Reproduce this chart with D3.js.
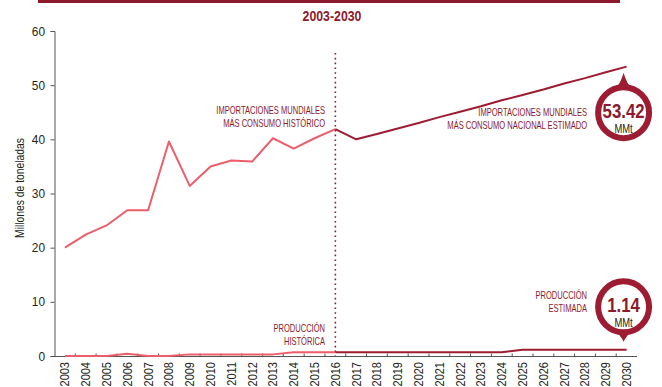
<!DOCTYPE html>
<html>
<head>
<meta charset="utf-8">
<script src="https://cdn.jsdelivr.net/npm/d3@7"></script>
<style>
  html, body { margin: 0; padding: 0; background: #fff; }
  svg { display: block; }
  text { font-family: "Liberation Sans", Arial, sans-serif; }
</style>
</head>
<body>
<svg id="chart" width="662" height="387"></svg>
<script>
// Years on the x axis
const years = ["2003","2004","2005","2006","2007","2008","2009","2010","2011","2012","2013","2014","2015","2016",
               "2017","2018","2019","2020","2021","2022","2023","2024","2025","2026","2027","2028","2029","2030"];
const histYears = years.slice(0, 14);   // 2003-2016
const estYears = years.slice(13);       // 2016-2030

// Imports plus consumption (million tonnes)
const importsHist = [20.0, 22.4, 24.1, 26.9, 26.9, 39.6, 31.4, 35.0, 36.1, 35.9, 40.2, 38.3, 40.2, 41.9];
const importsEst = [41.9, 40.0, 41.0, 42.0, 43.0, 44.1, 45.1, 46.1, 47.2, 48.2, 49.2, 50.3, 51.3, 52.4, 53.42];

// Domestic production (million tonnes)
const prodHist = [0.0, 0.0, 0.0, 0.4, 0.0, 0.0, 0.3, 0.3, 0.3, 0.3, 0.3, 0.7, 0.7, 0.7];
const prodEst = [0.7, 0.7, 0.7, 0.7, 0.7, 0.7, 0.7, 0.7, 0.7, 1.14, 1.14, 1.14, 1.14, 1.14, 1.14];

const yTicks = [0, 10, 20, 30, 40, 50, 60];
const splitYear = "2016";
const lastYear = "2030";

const DARK = "#8c1a2c";
const EST = "#9d1c31";
const HIST = "#ec5e6c";
const INK = "#231f20";

const svg = d3.select("#chart");

const x = d3.scaleBand().domain(years).range([54.5, 637]);
const cx = d => x(d) + x.bandwidth() / 2;
const y = d3.scaleLinear().domain([0, 60]).range([356, 31]);

// condensed text: horizontal squeeze applied around the anchor point
function ctext(parent, px, py, str, o) {
  const rot = o.rotate ? ` rotate(${o.rotate})` : "";
  const g = parent.append("g").attr("transform", `translate(${px},${py})${rot} scale(${o.sx || 1},1)`);
  return g.append("text").attr("text-anchor", o.anchor || "start")
    .attr("font-size", o.size).attr("font-weight", o.weight || "normal")
    .attr("fill", o.fill || INK).text(str);
}

// top rule and subtitle
svg.append("rect").attr("x", 38).attr("y", 0).attr("width", 582).attr("height", 3).attr("fill", DARK);
ctext(svg, 332, 21, "2003-2030", { size: 14, weight: "bold", fill: DARK, anchor: "middle", sx: 0.88 });

// y axis
const yAxis = svg.append("g").attr("transform", "translate(54.5,0)")
  .call(d3.axisLeft(y).tickValues(yTicks).tickSize(4).tickFormat(""));
yAxis.select(".domain").attr("stroke", "#555");
yAxis.selectAll(".tick line").attr("stroke", "#555");
yTicks.forEach(v => ctext(svg, 45, y(v) + 4.5, String(v), { size: 12.5, anchor: "end", sx: 0.95 }));

ctext(svg, 24, 188, "Millones de toneladas", { size: 12, anchor: "middle", rotate: -90, sx: 0.86 });

// x axis: ticks at band boundaries, labels rotated
const xg = svg.append("g").attr("transform", "translate(0,356.5)");
xg.append("line").attr("x1", 54.5).attr("x2", 637).attr("stroke", "#555");
xg.selectAll("line.tk").data(years.slice(1)).join("line").attr("class", "tk")
  .attr("x1", d => x(d)).attr("x2", d => x(d)).attr("y1", 0).attr("y2", -3).attr("stroke", "#555");
years.forEach(d => ctext(svg, cx(d) + 4.5, 362, d, { size: 12.5, anchor: "end", rotate: -90, sx: 0.88 }));

// divider at the last historical year
svg.append("line").attr("x1", cx(splitYear)).attr("x2", cx(splitYear))
  .attr("y1", 53).attr("y2", 356).attr("stroke", DARK).attr("stroke-width", 1.6)
  .attr("stroke-dasharray", "1.6 3.2");

const line = d3.line().x(d => cx(d[0])).y(d => y(d[1]));
const draw = (ys, vs, color) => svg.append("path")
  .datum(ys.map((d, i) => [d, vs[i]]))
  .attr("d", line).attr("fill", "none").attr("stroke", color)
  .attr("stroke-width", 2).attr("stroke-linejoin", "round");

draw(histYears, prodHist, HIST);
draw(estYears, prodEst, EST);
draw(histYears, importsHist, HIST);
draw(estYears, importsEst, EST);

// annotations
function label(xr, yb, lines) {
  lines.forEach((s, i) => ctext(svg, xr, yb + i * 12.5, s, { size: 10.5, anchor: "end", fill: DARK, sx: 0.72 }));
}
label(325, 114, ["IMPORTACIONES MUNDIALES", "MÁS CONSUMO HISTÓRICO"]);
label(325, 332, ["PRODUCCIÓN", "HISTÓRICA"]);
label(587, 116, ["IMPORTACIONES MUNDIALES", "MÁS CONSUMO NACIONAL ESTIMADO"]);
label(587, 299, ["PRODUCCIÓN", "ESTIMADA"]);

// value callout bubbles with a pointer toward the final point
function bubble(value, ccx, ccy, tipY) {
  const r = 25.5;
  const dir = tipY < ccy ? -1 : 1;
  const g = svg.append("g");
  g.append("path")
    .attr("d", `M${ccx - 10},${ccy + dir * (r - 3)} Q${ccx - 3},${ccy + dir * (r + 3)} ${ccx},${tipY} Q${ccx + 3},${ccy + dir * (r + 3)} ${ccx + 10},${ccy + dir * (r - 3)} Z`)
    .attr("fill", EST);
  g.append("circle").attr("cx", ccx).attr("cy", ccy).attr("r", r)
    .attr("fill", "#fff").attr("stroke", EST).attr("stroke-width", 6);
  ctext(g, ccx, ccy + 5, d3.format(".2f")(value), { size: 21, weight: "bold", fill: DARK, anchor: "middle", sx: 0.8 });
  ctext(g, ccx, ccy + 20, "MMt", { size: 12, anchor: "middle", sx: 0.78 });
}
const lastImp = importsEst[importsEst.length - 1];
const lastProd = prodEst[prodEst.length - 1];
bubble(lastImp, cx(lastYear) - 3, y(lastImp) + 46, y(lastImp) + 6);
bubble(lastProd, cx(lastYear) - 3, y(lastProd) - 43, y(lastProd) - 8);
</script>
</body>
</html>
